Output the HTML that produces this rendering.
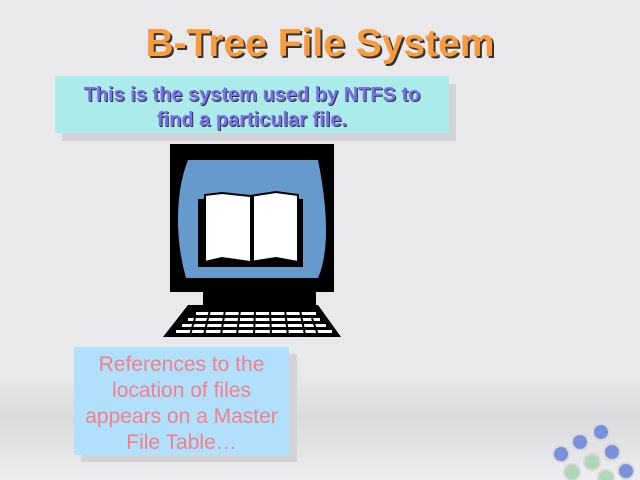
<!DOCTYPE html>
<html><head><style>
body{margin:0;width:640px;height:480px;overflow:hidden;position:relative;font-family:"Liberation Sans",sans-serif;
background:linear-gradient(180deg,#e9e9eb 0%,#e9e9eb 78%,#dadadc 87%,#eeeef0 100%);}
.abs{position:absolute}
.title{left:0;width:640px;top:22px;text-align:center;font-size:39px;font-weight:bold;color:#f79b3c;text-shadow:2px 2px 0 #333;}
.sh{background:#d3d3d5}
.t1{left:55px;top:76px;width:394px;height:57px;background:#abebe9;text-align:center;font-weight:bold;font-size:20px;line-height:25px;color:#7a6ff0;text-shadow:1px 1px 0 #333;padding-top:7px;box-sizing:border-box;white-space:nowrap}
.t2{left:74px;top:347px;width:215px;height:108px;background:#b0e0fb;text-align:center;font-size:21px;line-height:26px;color:#f57f88;padding-top:5px;box-sizing:border-box;white-space:nowrap}
</style></head><body>
<div class="abs title">B-Tree File System</div>
<div class="abs sh" style="left:62px;top:84px;width:394px;height:57px"></div>
<div class="abs t1">This is the system used by NTFS to<br>find a particular file.</div>
<svg class="abs" style="left:0;top:0" width="640" height="480">
<rect x="170" y="144" width="164" height="148" fill="#000"/>
<path d="M188 160 H318 Q326 200 326 230 Q326 260 318 278 H186 Q178 250 178 220 Q178 185 188 160Z" fill="#6699cc"/>
<rect x="198" y="199" width="105" height="68" fill="#000"/>
<path d="M205 195 L222 193 L250 196 L276 192 L298 195 V262 L276 258 L250 262 L222 258 L205 262Z" fill="#fff" stroke="#000" stroke-width="2"/>
<line x1="252" y1="195" x2="252" y2="262" stroke="#000" stroke-width="4"/>
<rect x="203" y="292" width="113" height="14" fill="#000"/>
<path d="M188 305 H318 L341 337 H163Z" fill="#000"/>
<g fill="#fff">
<rect x="196" y="312" width="120" height="3"/>
<rect x="188" y="318" width="132" height="3"/>
<rect x="182" y="324" width="144" height="3"/>
<rect x="176" y="330" width="156" height="3"/>
</g>
<g stroke="#000" stroke-width="2">
<line x1="210" y1="310" x2="204" y2="335"/><line x1="225" y1="310" x2="221" y2="335"/>
<line x1="240" y1="310" x2="237" y2="335"/><line x1="255" y1="310" x2="254" y2="335"/>
<line x1="270" y1="310" x2="271" y2="335"/><line x1="285" y1="310" x2="288" y2="335"/>
<line x1="300" y1="310" x2="305" y2="335"/><line x1="195" y1="318" x2="190" y2="335"/>
<line x1="312" y1="318" x2="318" y2="335"/>
</g>
<g stroke="#d8d8d8" stroke-width="2">
<circle cx="601" cy="432" r="8" fill="#7a90dc"/>
<circle cx="580" cy="442" r="8" fill="#7a90dc"/>
<circle cx="612" cy="452" r="8" fill="#7a90dc"/>
<circle cx="561" cy="454" r="8" fill="#7a90dc"/>
<circle cx="592" cy="462" r="8" fill="#b0d8b8"/>
<circle cx="626" cy="471" r="8" fill="#7a90dc"/>
<circle cx="572" cy="472" r="8" fill="#b0d8b8"/>
<circle cx="606" cy="478" r="8" fill="#b0d8b8"/>
</g>
</svg>
<div class="abs sh" style="left:81px;top:354px;width:216px;height:108px"></div>
<div class="abs t2">References to the<br>location of files<br>appears on a Master<br>File Table…</div>
</body></html>
